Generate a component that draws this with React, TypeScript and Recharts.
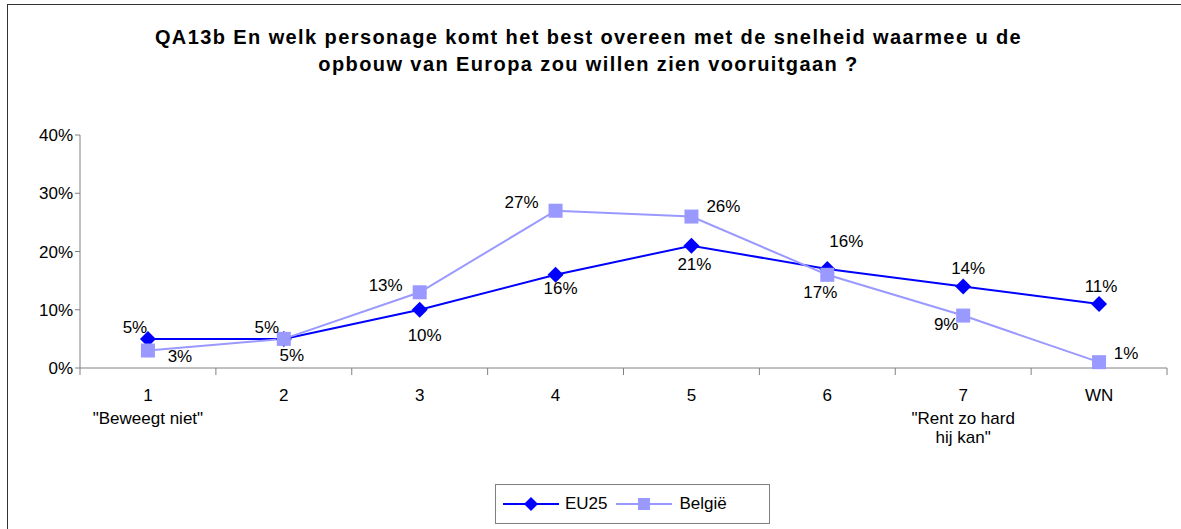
import React from "react";
import { LineChart, Line, XAxis, YAxis, LabelList } from "recharts";

// categories and sub labels
const categories = ["1", "2", "3", "4", "5", "6", "7", "WN"];
const subLabels = [['"Beweegt niet"'], [], [], [], [], [], ['"Rent zo hard', 'hij kan"'], []];
const eu25 = [5, 5, 10, 16, 21, 17, 14, 11];
const belgie = [3, 5, 13, 27, 26, 16, 9, 1];
const yTicks = [0, 10, 20, 30, 40];

const data = categories.map((c, i) => ({ cat: c, eu25: eu25[i], belgie: belgie[i] }));

// label placement (dx, dy) relative to the point
const euOffsets = [[-13, -11], [8, 17], [5, 26], [5, 14], [3, 19], [-7, 24], [5, -18], [2, -17]];
const beOffsets = [[32, 6], [-17, -11], [-34, -7], [-34, -8], [32, -10], [19, -33], [-17, 9], [27, -9]];

const FONT = "'Liberation Sans', Arial, sans-serif";
const FS = 17;
const W = 1181;
const H = 529;
const PLOT_LEFT = 80;
const PLOT_RIGHT = 1167;
const AXIS_Y = 368;
const BAND = (PLOT_RIGHT - PLOT_LEFT) / categories.length;
const EU_COLOR = "#0000FF";
const BE_COLOR = "#9999FF";

const Diamond = (props: any) => {
    const { cx, cy } = props;
    if (cx == null || cy == null) return null;
    const r = 8;
    return <polygon points={`${cx},${cy - r} ${cx + r},${cy} ${cx},${cy + r} ${cx - r},${cy}`} fill={EU_COLOR} />;
};

const Square = (props: any) => {
    const { cx, cy } = props;
    if (cx == null || cy == null) return null;
    const s = 7;
    return <rect x={cx - s} y={cy - s} width={s * 2} height={s * 2} fill={BE_COLOR} />;
};

const makeLabel = (offsets: number[][]) => (props: any) => {
    const { x, y, value, index } = props;
    const [dx, dy] = offsets[index] || [0, 0];
    return (
        <text x={x + dx} y={y + dy} textAnchor="middle" dominantBaseline="central" fontSize={FS} fontFamily={FONT} fill="#000">
            {value}%
        </text>
    );
};

const CatTick = (props: any) => {
    const { x, payload, index } = props;
    const lines = subLabels[index] || [];
    return (
        <g>
            <line x1={x - BAND / 2} x2={x - BAND / 2} y1={AXIS_Y} y2={AXIS_Y + 7} stroke="#808080" />
            {index === categories.length - 1 && (
                <line x1={x + BAND / 2} x2={x + BAND / 2} y1={AXIS_Y} y2={AXIS_Y + 7} stroke="#808080" />
            )}
            <text x={x} y={395} textAnchor="middle" dominantBaseline="central" fontSize={FS} fontFamily={FONT} fill="#000">
                {payload.value}
            </text>
            {lines.map((l, i) => (
                <text key={i} x={x} y={418 + i * 19} textAnchor="middle" dominantBaseline="central" fontSize={FS} fontFamily={FONT} fill="#000">
                    {l}
                </text>
            ))}
        </g>
    );
};

const LegendBox = () => (
    <div
        style={{
            position: "absolute",
            left: 495,
            top: 484,
            width: 275,
            height: 40,
            border: "1px solid #808080",
            background: "#fff",
            display: "flex",
            alignItems: "center",
            fontFamily: FONT,
            fontSize: FS,
            color: "#000",
            boxSizing: "border-box",
        }}
    >
        <svg width={62} height={20} style={{ marginLeft: 7 }}>
            <line x1={0} x2={56} y1={10} y2={10} stroke={EU_COLOR} strokeWidth={2} />
            <polygon points="28,3 35,10 28,17 21,10" fill={EU_COLOR} />
        </svg>
        <span>EU25</span>
        <svg width={62} height={20} style={{ marginLeft: 8 }}>
            <line x1={0} x2={56} y1={10} y2={10} stroke={BE_COLOR} strokeWidth={2} />
            <rect x={22} y={4} width={12} height={12} fill={BE_COLOR} />
        </svg>
        <span style={{ marginLeft: 2 }}>België</span>
    </div>
);

export default function App() {
    return (
        <div style={{ position: "absolute", left: 0, top: 0, width: W, height: H, background: "#fff", overflow: "hidden" }}>
            <div style={{ position: "absolute", left: 7, top: 4, width: W, height: H, border: "1.5px solid #333", boxSizing: "border-box" }} />
            <div
                style={{
                    position: "absolute",
                    left: 0,
                    top: 24,
                    width: W - 4,
                    textAlign: "center",
                    fontFamily: FONT,
                    fontWeight: "bold",
                    fontSize: 20,
                    letterSpacing: "1.4px",
                    lineHeight: "27px",
                    color: "#000",
                }}
            >
                QA13b En welk personage komt het best overeen met de snelheid waarmee u de
                <br />
                opbouw van Europa zou willen zien vooruitgaan ?
            </div>
            <div style={{ position: "absolute", left: 0, top: 0 }}>
                <LineChart width={W} height={H} data={data} margin={{ top: 135, right: W - PLOT_RIGHT, bottom: H - AXIS_Y - 60, left: 10 }}>
                    <XAxis
                        dataKey="cat"
                        scale="band"
                        height={60}
                        stroke="#808080"
                        tickLine={false}
                        tick={<CatTick />}
                        interval={0}
                    />
                    <YAxis
                        width={70}
                        domain={[0, 40]}
                        ticks={yTicks}
                        tickFormatter={(v: number) => `${v}%`}
                        stroke="#808080"
                        tickSize={5}
                        tick={{ fill: "#000", fontSize: FS, fontFamily: FONT }}
                        interval={0}
                    />
                    <Line dataKey="eu25" name="EU25" stroke={EU_COLOR} strokeWidth={2} dot={<Diamond />} isAnimationActive={false}>
                        <LabelList dataKey="eu25" content={makeLabel(euOffsets)} />
                    </Line>
                    <Line dataKey="belgie" name="België" stroke={BE_COLOR} strokeWidth={2} dot={<Square />} isAnimationActive={false}>
                        <LabelList dataKey="belgie" content={makeLabel(beOffsets)} />
                    </Line>
                </LineChart>
            </div>
            <LegendBox />
        </div>
    );
}
